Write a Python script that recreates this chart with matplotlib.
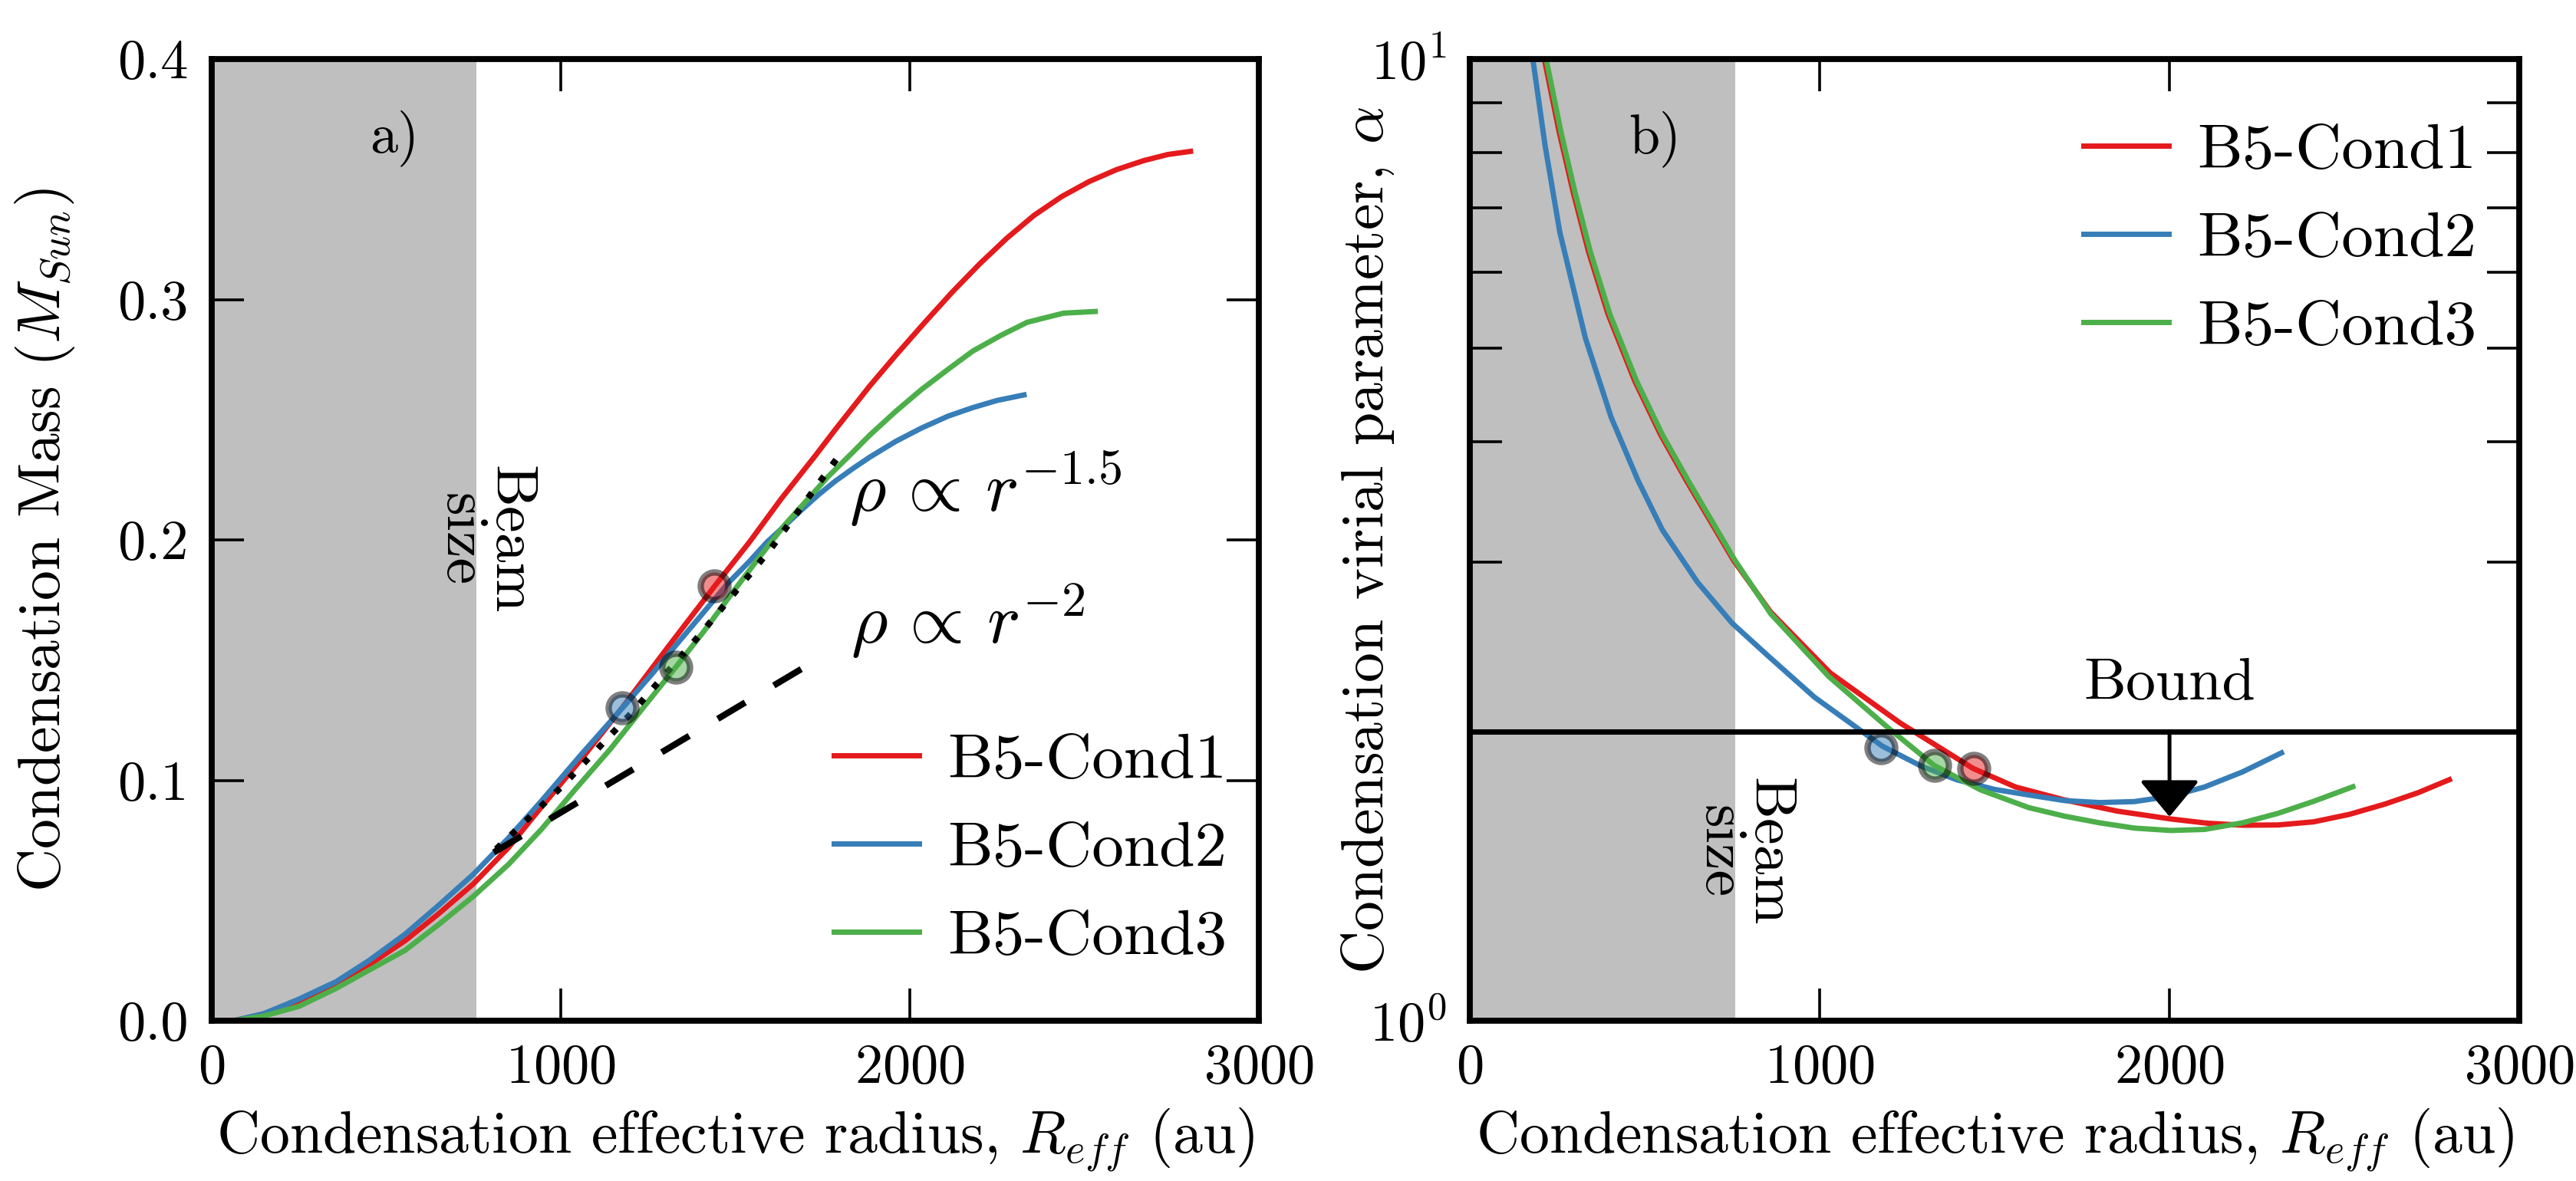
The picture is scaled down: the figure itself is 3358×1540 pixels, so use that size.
import matplotlib
matplotlib.use("Agg")
import matplotlib.pyplot as plt
from matplotlib.ticker import NullFormatter

plt.rcParams["font.family"] = "serif"
plt.rcParams["font.serif"] = ["cmr10"]
plt.rcParams["mathtext.fontset"] = "cm"
plt.rcParams["axes.formatter.use_mathtext"] = True
plt.rcParams["axes.unicode_minus"] = False

RED = "#e41a1c"
BLUE = "#377eb8"
GREEN = "#4daf4a"
SHADE = "#bfbfbf"
BEAM = 758
LABELS = ["B5-Cond1", "B5-Cond2", "B5-Cond3"]

# a) mass vs effective radius
r_mass_1 = [60, 150, 250, 357, 450, 554, 650, 750, 850, 945, 1060, 1180, 1310, 1442, 1540, 1631, 1729,
            1787, 1885, 1964, 2043, 2121, 2200, 2278, 2356, 2435, 2513, 2592, 2671, 2739, 2804]
mass_1 = [0.0, 0.0026, 0.0073, 0.0148, 0.0232, 0.0333, 0.0445, 0.057, 0.072, 0.089, 0.109, 0.131, 0.156,
          0.181, 0.199, 0.217, 0.235, 0.246, 0.264, 0.2775, 0.2905, 0.303, 0.3148, 0.3255, 0.335, 0.3428,
          0.349, 0.354, 0.3578, 0.3603, 0.3616]
r_mass_2 = [63, 150, 250, 357, 450, 554, 650, 750, 850, 945, 1060, 1176, 1260, 1338, 1410, 1476, 1540,
            1590, 1650, 1690, 1740, 1787, 1840, 1886, 1960, 2033, 2110, 2180, 2250, 2327]
mass_2 = [0.0, 0.003, 0.009, 0.0163, 0.025, 0.036, 0.048, 0.061, 0.076, 0.0915, 0.111, 0.130, 0.144,
          0.1576, 0.170, 0.1815, 0.191, 0.199, 0.207, 0.2125, 0.219, 0.2245, 0.230, 0.2345, 0.241, 0.2465,
          0.2515, 0.255, 0.258, 0.2603]
r_mass_3 = [63, 150, 250, 357, 450, 554, 650, 750, 850, 945, 1040, 1142, 1235, 1329, 1410, 1494, 1570,
            1640, 1705, 1767, 1830, 1886, 1960, 2033, 2110, 2180, 2260, 2336, 2440, 2531]
mass_3 = [0.0, 0.002, 0.006, 0.0135, 0.021, 0.0293, 0.040, 0.0518, 0.065, 0.0797, 0.096, 0.113, 0.130,
          0.147, 0.162, 0.1785, 0.193, 0.206, 0.2165, 0.2265, 0.2355, 0.2437, 0.2535, 0.2625, 0.271,
          0.2785, 0.285, 0.2905, 0.2943, 0.295]

# reference profiles
r_dot = [815, 1000, 1200, 1400, 1600, 1802]
m_dot = [0.0714, 0.097, 0.1276, 0.1608, 0.196, 0.236]
r_dash = [808, 1725]
m_dash = [0.070, 0.1494]

# b) virial parameter vs effective radius
r_vir_1 = [213, 255, 295, 339, 395, 471, 545, 618, 754, 860, 1030, 1230, 1438, 1560, 1699, 1850, 2004,
           2106, 2208, 2310, 2412, 2514, 2616, 2710, 2800]
vir_1 = [10.0, 8.41, 7.28, 6.31, 5.43, 4.63, 4.07, 3.65, 3.01, 2.66, 2.30, 2.04, 1.83, 1.750, 1.697,
         1.652, 1.621, 1.605, 1.597, 1.598, 1.610, 1.639, 1.680, 1.726, 1.781]
r_vir_2 = [180, 215, 257, 330, 404, 480, 550, 650, 750, 850, 985, 1179, 1290, 1393, 1500, 1597, 1700,
           1801, 1900, 2004, 2100, 2208, 2320]
vir_2 = [10.0, 8.13, 6.61, 5.13, 4.24, 3.65, 3.24, 2.86, 2.59, 2.40, 2.17, 1.93, 1.84, 1.78, 1.74,
         1.717, 1.694, 1.686, 1.690, 1.712, 1.750, 1.814, 1.899]
r_vir_3 = [218, 260, 300, 344, 400, 476, 550, 623, 758, 860, 1026, 1189, 1327, 1460, 1597, 1700, 1801,
           1900, 2004, 2100, 2208, 2310, 2412, 2524]
vir_3 = [10.0, 8.41, 7.28, 6.31, 5.43, 4.63, 4.07, 3.65, 3.01, 2.65, 2.28, 2.026, 1.843, 1.738, 1.666,
         1.632, 1.606, 1.586, 1.577, 1.581, 1.606, 1.643, 1.691, 1.751]

# highlighted condensations
r_pts = [1440, 1176, 1329]
mass_pts = [0.181, 0.130, 0.147]
vir_pts = [1.83, 1.923, 1.843]
BOUND = 2.0

fig = plt.figure(figsize=(16.79, 7.70), dpi=200)
ax1 = fig.add_axes([0.0822, 0.1357, 0.4065, 0.8143])
ax2 = fig.add_axes([0.5706, 0.1357, 0.4074, 0.8143])

colors = [RED, BLUE, GREEN]

for ax in (ax1, ax2):
    ax.axvspan(0, BEAM, color=SHADE, lw=0, zorder=0)
    for s in ax.spines.values():
        s.set_linewidth(2.8)
    ax.tick_params(which="both", direction="in", length=15, width=1.3,
                   top=True, right=True, labelsize=26, pad=11)
    ax.set_xlim(0, 3000)
    ax.set_xticks([0, 1000, 2000, 3000])
    ax.set_xlabel(r"Condensation effective radius, $R_{eff}$ (au)", fontsize=28, labelpad=6)

# panel a
for r, m, c, lab in zip([r_mass_1, r_mass_2, r_mass_3], [mass_1, mass_2, mass_3], colors, LABELS):
    ax1.plot(r, m, color=c, lw=2.5, label=lab)
ax1.plot(r_dot, m_dot, color="k", lw=3, ls=(0, (1, 2.2)))
ax1.plot(r_dash, m_dash, color="k", lw=3, ls=(0, (5, 5.2)))
for x, y, c in zip(r_pts, mass_pts, colors):
    ax1.plot(x, y, "o", ms=13, mfc=c, mec="k", mew=3, alpha=0.5)
ax1.set_ylim(0, 0.4)
ax1.set_yticks([0, 0.1, 0.2, 0.3, 0.4])
ax1.set_yticklabels(["0.0", "0.1", "0.2", "0.3", "0.4"])
ax1.set_ylabel(r"Condensation Mass ($M_{Sun}$)", fontsize=28)
ax1.yaxis.set_label_coords(-0.129, 0.5)
ax1.text(523, 0.367, "a)", fontsize=26, ha="center", va="center")
ax1.text(782, 0.20, "Beam\nsize", rotation=270, fontsize=28, ha="center", va="center",
         multialignment="center", linespacing=0.9)
ax1.text(1826, 0.212, r"$\rho\,\propto\,r^{-1.5}$", fontsize=33, ha="left", va="baseline")
ax1.text(1831, 0.157, r"$\rho\,\propto\,r^{-2}$", fontsize=33, ha="left", va="baseline")
ax1.legend(loc="center left", bbox_to_anchor=(0.539, 0.178), frameon=False, fontsize=30,
           handlelength=1.33, handletextpad=0.45, labelspacing=0.49)

# panel b
for r, a, c, lab in zip([r_vir_1, r_vir_2, r_vir_3], [vir_1, vir_2, vir_3], colors, LABELS):
    ax2.plot(r, a, color=c, lw=2.5, label=lab)
for x, y, c in zip(r_pts, vir_pts, colors):
    ax2.plot(x, y, "o", ms=13, mfc=c, mec="k", mew=3, alpha=0.5)
ax2.axhline(BOUND, color="k", lw=2.5)
ax2.annotate("", xy=(2000, 1.63), xytext=(2000, BOUND),
             arrowprops=dict(arrowstyle="-|>,head_length=0.4,head_width=0.33",
                             mutation_scale=37, color="k", lw=1.8, shrinkA=0, shrinkB=0))
ax2.text(2000, 2.1, "Bound", fontsize=28, ha="center", va="bottom")
ax2.set_yscale("log")
ax2.set_ylim(1, 10)
ax2.yaxis.set_minor_formatter(NullFormatter())
ax2.set_ylabel(r"Condensation virial parameter, $\alpha$", fontsize=28)
ax2.yaxis.set_label_coords(-0.070, 0.5)
ax2.text(528, 8.26, "b)", fontsize=26, ha="center", va="center")
ax2.text(783, 1.5, "Beam\nsize", rotation=270, fontsize=28, ha="center", va="center",
         multialignment="center", linespacing=0.9)
ax2.legend(loc="center left", bbox_to_anchor=(0.530, 0.812), frameon=False, fontsize=30,
           handlelength=1.33, handletextpad=0.45, labelspacing=0.49)

fig.savefig("out.png", dpi=200)
